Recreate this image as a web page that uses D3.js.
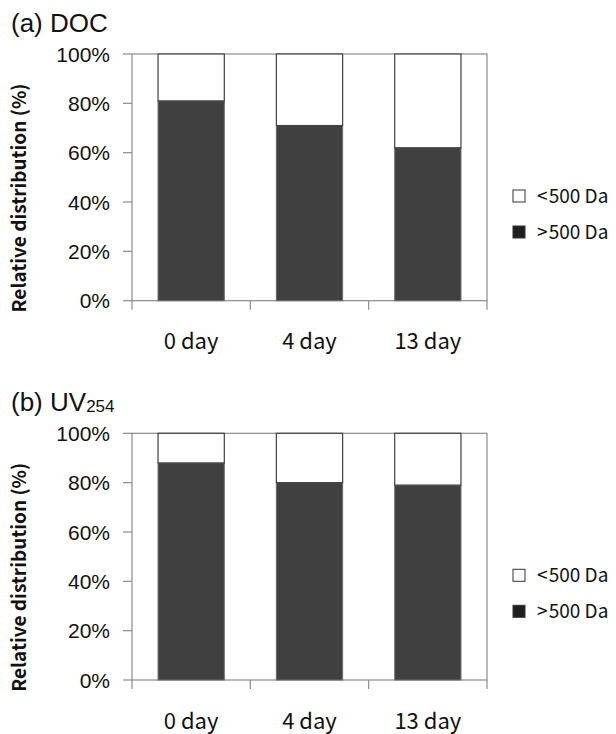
<!DOCTYPE html>
<html>
<head>
<meta charset="utf-8">
<script src="https://cdn.jsdelivr.net/npm/d3@7"></script>
<style>
  body { margin: 0; background: #fff; }
</style>
</head>
<body>
<div id="chart"></div>
<script>
const categories = ["0 day", "4 day", "13 day"];
const docAbove = [81, 71, 62];   // >500 Da, %
const docBelow = [19, 29, 38];   // <500 Da, %
const uvAbove = [88, 80, 79];
const uvBelow = [12, 20, 21];
const yTicks = [0, 20, 40, 60, 80, 100];
const legendLabels = ["<\u200a500 Da", ">\u200a500 Da"];

const svg = d3.select("#chart").append("svg")
    .attr("width", 616)
    .attr("height", 734);

const axisColor = "#8c8c8c";
const darkFill = "#404040";
const uiFont = "'Noto Sans CJK KR', 'Noto Sans', sans-serif";
const numFont = "'Liberation Sans', Arial, sans-serif";

function panel(top, title, sub, above, below) {
    const g = svg.append("g");
    const x = d3.scaleBand()
        .domain(categories)
        .range([132, 487])
        .paddingInner(0.44)
        .paddingOuter(0.22);
    const y = d3.scaleLinear().domain([0, 100]).range([top + 246.7, top]);

    // title
    const t = g.append("text")
        .attr("x", 11)
        .attr("y", top - 22)
        .style("font", "26px " + numFont)
        .attr("fill", "#111")
        .text(title);
    if (sub) {
        t.append("tspan").style("font-size", "17px").attr("dy", 1).text(sub);
    }

    // frame
    g.append("rect")
        .attr("x", x.range()[0])
        .attr("y", y(100))
        .attr("width", x.range()[1] - x.range()[0])
        .attr("height", y(0) - y(100))
        .attr("fill", "none")
        .attr("stroke", axisColor)
        .attr("stroke-width", 1.2);

    // y ticks
    g.selectAll(".yt").data(yTicks).enter().append("line")
        .attr("x1", 123).attr("x2", 132)
        .attr("y1", d => y(d)).attr("y2", d => y(d))
        .attr("stroke", axisColor).attr("stroke-width", 1.2);
    g.selectAll(".yl").data(yTicks).enter().append("text")
        .attr("x", 110)
        .attr("y", d => y(d))
        .attr("dy", "0.36em")
        .attr("text-anchor", "end")
        .style("font", "21px " + numFont)
        .attr("fill", "#111")
        .text(d => d + "%");

    // x ticks at band boundaries
    const bounds = categories.map(c => x(c) - x.step() * x.paddingInner() / 2)
        .concat([x.range()[1]]);
    bounds[0] = x.range()[0];
    g.selectAll(".xt").data(bounds).enter().append("line")
        .attr("x1", d => d).attr("x2", d => d)
        .attr("y1", y(0)).attr("y2", y(0) + 9)
        .attr("stroke", axisColor).attr("stroke-width", 1.2);
    g.selectAll(".xl").data(categories).enter().append("text")
        .attr("x", d => x(d) + x.bandwidth() / 2)
        .attr("y", y(0) + 41)
        .attr("dy", "0.35em")
        .attr("text-anchor", "middle")
        .style("font", "22px " + uiFont)
        .attr("fill", "#111")
        .text(d => d);

    // bars
    g.selectAll(".lo").data(categories).enter().append("rect")
        .attr("x", d => x(d))
        .attr("y", (d, i) => y(above[i]))
        .attr("width", x.bandwidth())
        .attr("height", (d, i) => y(0) - y(above[i]))
        .attr("fill", darkFill)
        .attr("stroke", "#6a6a6a")
        .attr("stroke-width", 1);
    g.selectAll(".hi").data(categories).enter().append("rect")
        .attr("x", d => x(d))
        .attr("y", (d, i) => y(above[i] + below[i]))
        .attr("width", x.bandwidth())
        .attr("height", (d, i) => y(above[i]) - y(above[i] + below[i]))
        .attr("fill", "#fff")
        .attr("stroke", "#404040")
        .attr("stroke-width", 1.2);

    // y axis title
    const midY = top + 144;
    g.append("text")
        .attr("transform", `translate(26,${midY}) rotate(-90)`)
        .attr("text-anchor", "middle")
        .style("font", "bold 19px " + uiFont)
        .attr("fill", "#111")
        .text("Relative distribution (%)");

    // legend
    const leg = g.selectAll(".leg").data(legendLabels).enter().append("g")
        .attr("transform", (d, i) => `translate(513,${top + 142 + i * 36})`);
    leg.append("rect")
        .attr("x", 0).attr("y", -6)
        .attr("width", 12).attr("height", 12)
        .attr("fill", (d, i) => i === 0 ? "#fff" : "#1e1e1e")
        .attr("stroke", "#333")
        .attr("stroke-width", 1);
    leg.append("text")
        .attr("x", 24)
        .attr("y", 0)
        .attr("dy", "0.35em")
        .style("font", "19px " + uiFont)
        .attr("fill", "#111")
        .text(d => d);
}

panel(54, "(a) DOC", null, docAbove, docBelow);
panel(433.3, "(b) UV", "254", uvAbove, uvBelow);
</script>
</body>
</html>
